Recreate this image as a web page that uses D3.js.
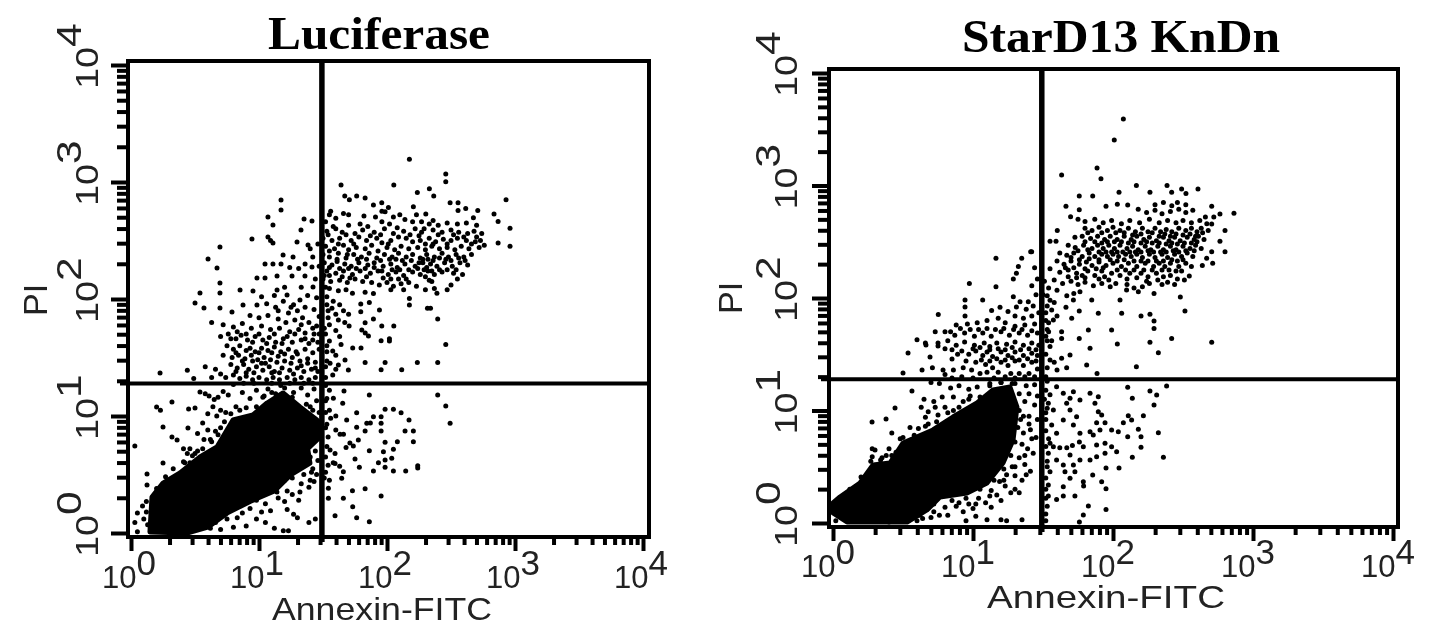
<!DOCTYPE html>
<html>
<head>
<meta charset="utf-8">
<script src="https://cdn.jsdelivr.net/npm/d3@7"></script>
<style>
  html, body { margin: 0; padding: 0; background: #fff; }
  svg { display: block; filter: blur(0.5px); }
</style>
</head>
<body>
<svg width="1441" height="642"></svg>
<script>
const decades = [0, 1, 2, 3, 4];
const minorSteps = [2, 3, 4, 5, 6, 7, 8, 9];
const xLabel = "Annexin-FITC";
const yLabel = "PI";
const gateAnnexin = 31;
const gatePI = 19;

// all population values are log10(intensity)
// solid black part of the population, where the dots merge
const lucBlob = [[.148,.009],[.164,.308],[.25,.427],[.383,.513],[.539,.65],[.672,.735],[.797,.966],[.953,1.009],[1.063,1.111],[1.188,1.197],[1.32,1.077],[1.453,.966],[1.477,.821],[1.38,.72],[1.398,.598],[1.25,.5],[1.12,.36],[.93,.27],[.75,.17],[.6,.05],[.438,0]];
const kdBlob = [[0,.178],[.05,.231],[.193,.356],[.286,.516],[.407,.533],[.5,.711],[.714,.827],[.857,.942],[1.029,1.067],[1.143,1.182],[1.264,1.209],[1.314,1.031],[1.286,.738],[1.214,.533],[1.1,.356],[.957,.267],[.764,.231],[.671,.116],[.529,.009],[.1,.009],[0,.089]];

// dots along the rim of the solid part
const lucRim = [[.2,.38],[.27,.48],[.33,.55],[.42,.6],[.48,.66],[.52,.7],[.56,.72],[.62,.8],[.68,.84],[.73,.95],[.78,1.02],[.85,1.05],[.9,1.07],[.98,1.08],[1.04,1.17],[1.1,1.2],[1.26,1.16],[1.4,1.08],[1.47,.95],[.45,.06],[.52,.13],[.6,.16],[.66,.2],[.72,.27],[.8,.29],[.86,.32],[.95,.35],[1.02,.34],[1.06,.42],[1.13,.47],[1.18,.52],[1.25,.58],[1.33,.58],[1.4,.65],[1.42,.55],[1.3,.72],[1.38,.75],[.3,.02],[.36,.04],[.1,.12],[.12,.18]];
const kdRim = [[.12,.3],[.2,.41],[.27,.55],[.35,.58],[.42,.6],[.48,.75],[.58,.78],[.66,.86],[.74,.9],[.82,.98],[.9,1.03],[.97,1.1],[1.05,1.12],[1.12,1.22],[1.2,1.25],[1.28,1.24],[1.33,1.15],[1.33,1],[1.32,.85],[1.3,.72],[1.27,.6],[1.22,.48],[1.15,.38],[1.05,.3],[.95,.22],[.85,.2],[.72,.17],[.62,.07],[.55,.05],[.45,.03],[.6,.02]];

const lucDots = [
  // top right quadrant, outliers
  [2.175,3.194],[2.459,3.068],[2.459,3.002],[1.641,2.974],[2.053,2.974],[2.237,2.911],[2.331,2.943],[2.365,2.88],[2.93,2.849],[1.67,2.88],[1.706,2.849],[1.763,2.88],[1.829,2.863],[1.894,2.803],[1.959,2.823],[2.011,2.783],[1.985,2.746],[2.206,2.789],[2.303,2.726],[2.493,2.823],[2.555,2.823],[2.555,2.757],[2.615,2.774],[2.709,2.757],[2.836,2.726],[2.868,2.663],[2.675,2.695],[2.961,2.604],[2.868,2.478],[2.961,2.45],
  // top right quadrant, dense band
  [1.55,2.72],[1.6,2.69],[1.66,2.73],[1.82,2.71],[1.91,2.7],[2.1,2.72],[2.14,2.68],[2.2,2.66],[1.52,2.66],[1.58,2.62],[1.7,2.63],[1.79,2.64],[1.85,2.62],[1.96,2.66],[2.02,2.64],[2.08,2.61],[2.27,2.66],[2.33,2.64],[2.4,2.63],[2.47,2.65],[2.55,2.64],[2.62,2.65],[2.7,2.63],
  [1.53,2.58],[1.6,2.6],[1.65,2.57],[1.75,2.56],[1.81,2.59],[1.9,2.57],[1.98,2.6],[2.05,2.56],[2.13,2.58],[2.22,2.6],[2.27,2.57],[2.36,2.59],[2.43,2.57],[2.5,2.59],[2.56,2.57],[2.63,2.56],[2.68,2.58],[2.74,2.56],
  [1.5,2.52],[1.57,2.5],[1.63,2.52],[1.72,2.5],[1.78,2.53],[1.84,2.5],[1.92,2.52],[1.96,2.48],[2.03,2.5],[2.15,2.52],[2.2,2.49],[2.26,2.5],[2.33,2.52],[2.38,2.49],[2.44,2.51],[2.5,2.5],[2.55,2.52],[2.62,2.5],[2.69,2.49],[2.73,2.5],
  [1.52,2.45],[1.59,2.43],[1.66,2.46],[1.7,2.42],[1.76,2.44],[1.83,2.43],[1.88,2.46],[1.93,2.41],[2,2.44],[2.06,2.42],[2.11,2.45],[2.17,2.43],[2.24,2.44],[2.3,2.42],[2.35,2.45],[2.41,2.43],[2.47,2.44],[2.53,2.42],[2.58,2.45],[2.64,2.43],[2.72,2.44],[2.76,2.46],
  [1.5,2.38],[1.55,2.36],[1.62,2.39],[1.68,2.35],[1.74,2.38],[1.8,2.36],[1.86,2.39],[1.92,2.35],[1.98,2.38],[2.04,2.36],[2.09,2.39],[2.15,2.36],[2.2,2.38],[2.26,2.35],[2.31,2.38],[2.37,2.36],[2.43,2.39],[2.48,2.36],[2.54,2.38],[2.6,2.36],[2.66,2.38],
  [1.51,2.31],[1.57,2.29],[1.61,2.32],[1.67,2.3],[1.72,2.28],[1.78,2.31],[1.85,2.29],[1.9,2.31],[1.97,2.28],[2.03,2.3],[2.08,2.27],[2.14,2.3],[2.22,2.28],[2.28,2.31],[2.31,2.27],[2.34,2.3],[2.39,2.28],[2.45,2.31],[2.51,2.28],[2.57,2.31],[2.63,2.29],
  [1.53,2.24],[1.6,2.22],[1.66,2.24],[1.73,2.21],[1.79,2.24],[1.87,2.22],[1.93,2.24],[2.01,2.21],[2.07,2.23],[2.13,2.2],[2.2,2.23],[2.26,2.21],[2.32,2.24],[2.37,2.21],[2.43,2.23],[2.52,2.22],[2.59,2.21],
  [1.5,2.17],[1.56,2.15],[1.63,2.16],[1.69,2.14],[1.75,2.17],[1.81,2.15],[1.88,2.14],[1.94,2.12],[2,2.14],[2.05,2.11],[2.11,2.13],[2.17,2.14],[2.23,2.11],[2.33,2.16],[2.37,2.09],[2.5,2.12],[2.55,2.17],[2.47,2.08],
  [1.54,2.55],[1.62,2.47],[1.68,2.55],[1.74,2.47],[1.87,2.54],[1.95,2.55],[2.01,2.47],[2.09,2.53],[2.18,2.55],[2.25,2.54],[2.3,2.47],[2.36,2.47],[2.4,2.55],[2.47,2.47],[2.52,2.55],[2.6,2.53],[2.66,2.47],[2.7,2.53],
  [1.55,2.41],[1.61,2.34],[1.69,2.38],[1.77,2.34],[1.84,2.34],[1.95,2.33],[2.02,2.34],[2.07,2.34],[2.12,2.33],[2.19,2.33],[2.25,2.31],[2.28,2.34],[2.32,2.34],[2.36,2.33],[2.41,2.35],[2.46,2.34],[2.5,2.33],[2.56,2.35],[2.61,2.33],
  [1.55,2.27],[1.63,2.26],[1.7,2.26],[1.76,2.26],[1.83,2.26],[1.9,2.27],[1.96,2.24],[2.04,2.25],[2.1,2.25],[2.17,2.25],[2.24,2.26],[2.29,2.25],[2.35,2.24],[2.41,2.25],[2.47,2.25],[2.54,2.25],
  [1.55,2.2],[1.65,2.19],[1.71,2.18],[1.84,2.19],[1.97,2.18],[2.03,2.17],[2.09,2.17],[2.15,2.17],[2.3,2.19],[2.35,2.15],[1.56,2.75],[1.7,2.72],[1.96,2.75],[2.05,2.7],[2.23,2.72],[2.29,2.6],[2.36,2.67],
  // top right quadrant, under the band
  [1.55,2.09],[1.62,2.07],[1.68,2.08],[1.73,2.05],[2.03,2.08],[2.13,2.08],[2.3,2.08],[2.39,2.05],[1.829,2.057],[1.894,2.048],[1.862,1.971],[1.795,1.957],[1.795,1.891],[1.941,1.906],[2.175,2.005],[2.175,1.948],[2.316,1.92],[2.34,1.92],[2.396,1.829],[1.894,1.829],[1.829,1.797],[1.704,1.769],[1.959,1.769],[2.053,1.769],[1.803,1.735],[1.83,1.71],[1.855,1.683],[1.954,1.643],[2.019,1.66],[2.019,1.64],[2.459,1.612],[1.641,1.612],[1.576,1.555],[1.732,1.581],[1.797,1.581],[1.829,1.458],[1.985,1.458],[2.237,1.458],[2.396,1.458],[1.954,1.395],[2.115,1.395],[1.672,1.478],[1.62,1.435],[1.555,1.45],[1.698,1.393],[1.576,1.35],
  [1.53,2.02],[1.58,1.98],[1.63,1.95],[1.57,1.92],[1.66,1.9],[1.6,1.87],[1.7,1.87],[1.54,1.84],[1.62,1.82],[1.67,1.8],[1.55,1.78],[1.6,1.73],[1.52,1.7],[1.63,1.68],[1.55,1.64],[1.53,1.55],[1.6,1.52],[1.53,1.47],[1.6,1.4],[1.52,1.33],
  [1.51,2.2],[1.52,2.1],[1.53,1.95],[1.54,1.9],[1.51,1.75],[1.53,1.6],[1.52,1.42],[1.52,1.26],[1.55,1.22],[1.53,1.15],[1.52,1.03],[1.52,.9],[1.53,.74],[1.52,.65],[1.54,.58],[1.51,.47],
  // upper left quadrant, fan up to the gate line
  [1.172,2.846],[1.172,2.761],[1.07,2.7],[1.109,2.632],[1.352,2.684],[1.414,2.667],[1.328,2.59],[.945,2.513],[1.07,2.53],[1.09,2.5],[1.109,2.479],[.695,2.444],[.602,2.342],[1.188,2.376],[1.266,2.359],[1.297,2.487],[1.383,2.462],[1.4,2.43],[1.047,2.299],[1.109,2.299],[1.172,2.299],[.672,2.265],[.695,2.137],[.984,2.179],[1.047,2.179],[1.141,2.197],[1.258,2.197],[1.414,2.274],[1.359,2.197],[.852,2.077],[.953,2.068],[.539,2.051],[.695,2.051],[1.141,2.077],[1.219,2.034],[.5,1.966],[.57,1.923],[.695,1.923],[.789,1.889],[.875,1.949],[.984,1.949],[1.32,1.991],[1.422,2.103],[1.27,1.95],
  [1.12,2.03],[1.19,1.98],[1.2,2.1],[1.33,2.1],[1.38,2.03],[1.45,2.01],[1.44,2.17],[1.42,2.36],[1.47,2.28],[1.46,2.47],[1.36,2.3],[1.31,2.26],[1.24,2.27],[1.02,2.02],[1.06,1.96],[1.13,1.93],[1.23,1.88],[1.3,1.9],[1.36,1.93],[1.43,1.91],[1.47,1.85],[.93,1.86],[1,1.84],[1.07,1.86],[1.15,1.83],[1.21,1.8],[1.28,1.82],[1.34,1.84],[1.39,1.8],[1.45,1.77],
  [.63,1.8],[.72,1.78],[.8,1.76],[.87,1.79],[.94,1.75],[1.02,1.77],[1.09,1.74],[1.16,1.75],[1.24,1.72],[1.31,1.74],[1.36,1.71],[1.43,1.7],[.7,1.68],[.76,1.7],[.82,1.66],[.86,1.69],[.91,1.65],[.97,1.68],[1.03,1.65],[1.08,1.67],[1.13,1.63],[1.19,1.66],[1.26,1.63],[1.33,1.65],[1.39,1.62],[1.46,1.63],
  [.75,1.6],[.8,1.57],[.85,1.6],[.9,1.56],[.93,1.58],[.97,1.55],[1.02,1.58],[1.07,1.56],[1.12,1.59],[1.17,1.55],[1.23,1.57],[1.29,1.55],[1.36,1.57],[1.42,1.54],[1.47,1.57],[.72,1.52],[.79,1.5],[.84,1.52],[.89,1.49],[.94,1.52],[.99,1.48],[1.04,1.5],[1.09,1.48],[1.15,1.51],[1.2,1.47],[1.26,1.5],[1.32,1.47],[1.38,1.49],[1.44,1.46],
  [.78,1.44],[.83,1.41],[.88,1.44],[.92,1.4],[.98,1.42],[1.03,1.39],[1.08,1.42],[1.12,1.38],[1.18,1.41],[1.24,1.39],[1.3,1.41],[1.35,1.38],[1.41,1.4],[1.46,1.38],[.66,1.4],[.58,1.42],[.7,1.36],[.74,1.33],[.8,1.35],[.85,1.32],[.9,1.34],[.95,1.31],[1,1.33],[1.06,1.31],[1.11,1.33],[1.16,1.31],[1.22,1.33],[1.28,1.31],[1.33,1.33],[1.39,1.31],[1.44,1.33],[.227,1.368],[.44,1.39],[.63,1.33],[.49,1.32],
  [.78,1.66],[.83,1.72],[.9,1.7],[.95,1.63],[1,1.7],[1.06,1.62],[1.12,1.7],[1.18,1.62],[1.22,1.68],[1.28,1.7],[1.36,1.66],[1.42,1.65],[.82,1.54],[.87,1.47],[.95,1.47],[1,1.54],[1.05,1.45],[1.1,1.54],[1.14,1.46],[1.2,1.53],[1.25,1.45],[1.3,1.53],[1.38,1.45],[.82,1.38],[.9,1.37],[.96,1.37],[1.02,1.45],[1.1,1.37],[1.16,1.37],[1.27,1.36],[1.33,1.43],[1.44,1.41],
  [1.1,1.28],[1.17,1.26],[1.24,1.28],[1.35,1.28],[1.42,1.28],[.96,1.28],[.88,1.28],[.8,1.27],[1.15,1.9],[1.25,1.93],[1.33,1.78],[1.42,1.75],[1.47,1.7],
  // below the horizontal gate, left of the vertical one
  [.2,1.077],[.23,1.05],[.32,1.12],[.5,1.068],[.45,1.06],[.445,.897],[.25,.906],[.32,.821],[.36,.795],[.03,.744],[.25,.598],[.125,.504],[.125,.41],[.41,.72],[.46,.72],[.44,.68],[.41,.61],[.46,.6],[.5,.68],[.539,1.205],[.58,1.19],[.61,1.17],[.65,1.14],[.68,1.16],[.72,1.21],[.76,1.18],[.64,1.08],[.6,1.02],[.67,1],[.7,1.05],[.56,.94],[.6,.88],[.66,.87],[.52,.85],[.57,.8],[.63,.78],[.7,.9],[.74,1.03],[.82,1.08],[.87,1.2],[.93,1.15],[.98,1.22],[1.03,1.16],[1.07,1.23],[1.13,1.19],[1.2,1.24],[1.27,1.2],[1.33,1.24],[1.38,1.18],[1.43,1.23],[1.45,1.13],[1.37,1.1],[1.42,1.05],[1.47,1.03],
  [1.24,.66],[1.3,.66],[1.37,.68],[1.44,.7],[1.46,.62],[1.41,.52],[1.35,.5],[1.3,.55],[1.26,.47],[1.2,.45],[1.43,.44],[1.33,.42],[1.39,.39],[1.15,.3],[1.2,.27],[1.26,.33],[1.31,.28],[1.22,.2],[1.27,.16],[1.3,.13],[1.05,.25],[1.09,.19],[1.02,.18],[.93,.21],[.87,.17],[.83,.13],[.8,.22],[.75,.12],[.7,.15],[.66,.09],[.62,.12],[.98,.12],[1.05,.09],[1.12,.04],[1.19,.02],[1.23,.02],[1.39,.09],[1.44,.12],[.9,.06],[.8,.05],[.7,.03],[.56,.05],[.05,.01],[.03,.09],[.05,.17],[.13,.07],[.09,.23],[.12,.27],[.28,.06],
  [.9,.26],[.98,.28],[1.05,.35],[1.14,.35],[1.22,.36],[1.32,.35],[1.4,.45],[1.45,.5],[.7,.2],[.62,.04],
  // right of the vertical gate, low PI
  [2.396,1.179],[2.459,1.085],[2.493,.937],[1.862,1.179],[1.664,1.214],[1.581,1.151],[1.654,1.108],[1.763,1.028],[1.985,1.057],[2.05,1.057],[2.11,1.028],[1.894,.994],[1.954,.994],[2.172,.966],[1.685,.966],[1.842,.937],[1.87,.94],[1.954,.937],[1.763,.903],[1.829,.872],[1.954,.872],[2.141,.872],[2.206,.872],[1.633,.843],[1.66,.843],[1.776,.795],[1.737,.743],[1.985,.775],[2.081,.78],[2.206,.78],[2.05,.715],[1.972,.695],[1.862,.704],[1.75,.632],[2.037,.638],[1.985,.624],[1.933,.601],[2.24,.575],[2.24,.555],[1.784,.561],[1.985,.561],[1.894,.53],[2.05,.53],[2.146,.53],[1.659,.524],[1.646,.467],[1.73,.362],[1.829,.379],[1.954,.316],[1.659,.296],[1.732,.225],[1.594,.148],[1.763,.131],[1.862,.097],[1.542,.382],[1.542,.296],[1.594,.595],[1.555,.709],[1.594,.68],[1.53,.93],[1.56,.98],[1.6,1],[1.55,1.05],[1.52,1.13],[1.6,.88],[1.54,.82],[1.58,.6],[1.52,.52],[1.55,.45],[1.68,.73],[1.71,.77],[1.63,.57]
];

const kdDots = [
  // top right quadrant, outliers
  [2.074,3.591],[2.009,3.404],[1.886,3.156],[1.914,3.061],[1.633,3.093],[2.167,3],[2.386,3],[2.419,2.939],[2.264,2.939],[2.043,2.939],[1.759,2.907],[1.855,2.907],[2.607,2.969],[2.49,2.969],[2.521,2.93],[1.664,2.815],[1.759,2.785],[1.95,2.815],[2.031,2.833],[2.105,2.827],[1.697,2.723],[2.705,2.815],[2.864,2.753],[2.764,2.747],[2.705,2.658],[2.8,2.599],[2.764,2.504],[2.705,2.412],[2.8,2.412],[2.669,2.353],[2.638,2.29],[2.712,2.308],[1.602,2.599],[1.728,2.539],[1.55,2.504],[1.593,2.504],[1.419,2.412],[2.545,2.196],[2.481,2.009],[2.293,2.041],[2.514,1.884],[2.2,1.84],[2.264,1.855],[2.293,1.796],[2.293,1.73],[2.419,1.639],[2.264,1.606],[2.705,1.606],[2.324,1.514],[2.167,1.39],[1.886,1.33],[2.031,1.591],[1.99,1.716],[2.062,1.864],[1.895,1.864],[1.759,1.884],[1.664,1.917],[1.705,1.819],[1.824,1.716],[1.759,1.639],[1.633,1.701],[1.633,1.639],[1.562,1.621],[1.836,1.553],[1.693,1.493],[1.633,1.464],[1.669,1.381],[1.812,1.404],[1.562,1.893],[1.574,1.804],[1.717,1.982],[1.848,1.982],[2.05,1.982],[1.764,2.056],[2.181,2.056],[2.097,2.071],
  // top right quadrant, dense band
  [2.3,2.83],[2.36,2.85],[2.42,2.82],[2.46,2.85],[2.52,2.83],[2.18,2.79],[2.24,2.76],[2.3,2.78],[2.35,2.75],[2.41,2.77],[2.47,2.79],[2.52,2.76],[2.57,2.78],[2.66,2.72],[2.72,2.72],[1.75,2.7],[1.8,2.68],[1.87,2.7],[1.93,2.67],[1.99,2.69],[2.06,2.66],[2.12,2.69],[2.19,2.67],[2.26,2.7],[2.33,2.67],[2.39,2.69],[2.45,2.67],[2.5,2.69],[2.56,2.67],[2.62,2.69],[2.67,2.66],
  [1.8,2.62],[1.85,2.6],[1.9,2.63],[1.96,2.6],[2,2.63],[2.05,2.6],[2.11,2.62],[2.16,2.59],[2.21,2.62],[2.25,2.59],[2.3,2.62],[2.34,2.59],[2.38,2.61],[2.42,2.59],[2.47,2.62],[2.52,2.6],[2.56,2.62],[2.6,2.59],[2.63,2.62],[2.68,2.6],
  [1.78,2.55],[1.84,2.53],[1.89,2.55],[1.94,2.52],[1.98,2.55],[2.03,2.52],[2.08,2.55],[2.13,2.52],[2.17,2.55],[2.22,2.52],[2.26,2.54],[2.31,2.51],[2.36,2.54],[2.4,2.51],[2.44,2.54],[2.48,2.51],[2.53,2.54],[2.58,2.52],[2.61,2.55],[2.65,2.52],
  [1.68,2.47],[1.73,2.45],[1.79,2.47],[1.85,2.44],[1.89,2.47],[1.93,2.44],[1.97,2.47],[2.01,2.44],[2.05,2.47],[2.1,2.44],[2.14,2.46],[2.18,2.43],[2.23,2.46],[2.27,2.43],[2.32,2.46],[2.36,2.43],[2.41,2.46],[2.45,2.43],[2.5,2.46],[2.55,2.44],[2.59,2.47],[2.63,2.44],
  [1.62,2.4],[1.67,2.38],[1.72,2.4],[1.78,2.37],[1.83,2.4],[1.87,2.37],[1.92,2.39],[1.96,2.37],[2,2.39],[2.04,2.37],[2.09,2.39],[2.13,2.37],[2.17,2.39],[2.21,2.36],[2.26,2.39],[2.3,2.36],[2.35,2.39],[2.39,2.36],[2.44,2.39],[2.49,2.37],[2.53,2.4],[2.57,2.37],
  [1.6,2.33],[1.65,2.3],[1.7,2.33],[1.76,2.3],[1.81,2.32],[1.85,2.29],[1.9,2.32],[1.95,2.29],[2,2.31],[2.06,2.28],[2.11,2.31],[2.17,2.28],[2.23,2.31],[2.29,2.28],[2.33,2.31],[2.37,2.28],[2.41,2.31],[2.47,2.28],[2.52,2.31],[2.56,2.28],[2.49,2.24],
  [1.55,2.26],[1.62,2.23],[1.68,2.25],[1.74,2.22],[1.78,2.2],[1.82,2.24],[1.87,2.2],[1.92,2.24],[1.94,2.19],[1.99,2.22],[2.05,2.2],[2.12,2.22],[2.17,2.18],[2.2,2.22],[2.25,2.19],[2.31,2.22],[2.36,2.19],[2.41,2.2],[2.46,2.17],[2.51,2.16],
  [1.58,2.16],[1.64,2.13],[1.7,2.15],[1.75,2.12],[1.8,2.14],[1.86,2.11],[1.92,2.13],[1.98,2.1],[2.02,2.13],[2.1,2.12],[2.15,2.09],[2.21,2.1],[2.26,2.13],[2.35,2.12],[1.54,2.09],[1.6,2.07],[1.67,2.02],[1.72,2.04],[1.5,2.03],
  [1.82,2.58],[1.92,2.58],[2.02,2.58],[2.08,2.58],[2.14,2.56],[2.2,2.57],[2.28,2.58],[2.33,2.55],[2.37,2.57],[2.41,2.55],[2.45,2.57],[2.5,2.56],[2.55,2.57],[2.59,2.55],[2.64,2.58],
  [1.8,2.5],[1.87,2.5],[1.92,2.49],[1.96,2.5],[2.01,2.5],[2.06,2.5],[2.11,2.49],[2.15,2.5],[2.2,2.49],[2.24,2.5],[2.28,2.49],[2.33,2.49],[2.38,2.48],[2.42,2.49],[2.46,2.48],[2.51,2.49],[2.56,2.49],[2.6,2.5],
  [1.75,2.42],[1.82,2.43],[1.9,2.41],[1.95,2.41],[1.99,2.41],[2.03,2.41],[2.07,2.41],[2.12,2.41],[2.16,2.41],[2.2,2.41],[2.25,2.42],[2.29,2.41],[2.34,2.41],[2.38,2.41],[2.43,2.42],[2.47,2.41],[2.52,2.42],[2.58,2.42],
  [1.7,2.36],[1.76,2.34],[1.83,2.35],[1.9,2.34],[1.98,2.34],[2.03,2.33],[2.08,2.34],[2.15,2.33],[2.2,2.33],[2.25,2.33],[2.31,2.33],[2.36,2.33],[2.42,2.34],[2.46,2.33],[2.5,2.34],[1.66,2.27],[1.72,2.27],[1.8,2.26],[1.88,2.26],[1.93,2.27],[2.03,2.25],[2.09,2.25],[2.15,2.25],[2.22,2.25],[2.28,2.25],[2.35,2.25],[2.4,2.25],[2.45,2.24],[1.68,2.19],[1.74,2.18],[1.8,2.18],[1.9,2.17],[1.97,2.16],[2.1,2.17],[2.24,2.15],[2.32,2.16],[2.39,2.14],[2.44,2.12],
  [1.55,1.98],[1.58,1.96],[1.53,1.93],[1.52,1.87],[1.6,1.84],[1.54,1.78],[1.53,1.72],[1.52,1.66],[1.55,1.57],[1.52,1.5],[1.55,1.45],[1.53,1.38],[1.6,1.36],[1.58,1.43],
  [1.51,2.15],[1.53,2.02],[1.52,1.8],[1.54,1.7],[1.53,1.62],[1.52,1.3],[1.53,1.26],[1.51,1.1],[1.53,1.02],[1.52,.92],[1.54,.75],[1.52,.68],[1.53,.55],[1.52,.3],[1.52,.22],
  // upper left quadrant, fan up to the gate line
  [1.412,2.412],[1.348,2.353],[1.164,2.353],[1.324,2.279],[1.31,2.22],[1.288,2.168],[1.164,2.1],[.974,2.129],[.943,1.982],[.943,1.92],[.943,1.84],[1.069,1.982],[1.133,1.888],[1.193,1.917],[1.288,2.012],[1.336,1.967],[1.395,1.967],[.752,1.853],[1.44,2.27],[1.46,2.17],[1.42,2.11],[1.45,2.03],[1.31,1.92],[1.38,1.9],[1.43,1.93],[1.25,1.88],[1.3,1.84],[1.36,1.82],[1.42,1.84],[1.47,1.87],[1.18,1.82],[1.1,1.8],[1.03,1.78],[.96,1.77],[.88,1.76],[1.23,1.78],[1.3,1.75],[1.37,1.76],[1.44,1.77],
  [.73,1.7],[.8,1.7],[.87,1.67],[.94,1.69],[1.01,1.66],[1.07,1.69],[1.13,1.66],[1.2,1.7],[1.26,1.67],[1.33,1.69],[1.39,1.67],[1.46,1.69],[.6,1.63],[.66,1.6],[.75,1.6],[.82,1.62],[.88,1.58],[.94,1.61],[1.01,1.58],[1.08,1.6],[1.12,1.57],[1.17,1.6],[1.24,1.59],[1.3,1.61],[1.36,1.58],[1.42,1.6],[1.47,1.58],
  [.536,1.511],[.664,1.582],[.75,1.573],[.693,1.476],[.85,1.458],[.89,1.5],[.97,1.5],[1.02,1.53],[1.07,1.49],[1.1,1.52],[1.14,1.48],[1.2,1.52],[1.25,1.49],[1.3,1.52],[1.36,1.49],[1.42,1.51],[1.46,1.49],[.636,1.36],[.71,1.38],[.786,1.36],[.5,1.333],[.86,1.36],[.93,1.38],[.99,1.36],[1.02,1.43],[1.09,1.41],[1.14,1.38],[1.2,1.43],[1.25,1.4],[1.3,1.44],[1.36,1.4],[1.42,1.43],[1.46,1.37],[1.33,1.33],[1.4,1.33],[1.05,1.33],[.8,1.32],[1.18,1.34],[1.27,1.33],
  [.84,1.7],[.91,1.73],[.98,1.72],[1.04,1.72],[1.1,1.73],[1.16,1.72],[1.22,1.73],[1.29,1.72],[1.35,1.72],[1.42,1.71],[.8,1.55],[.85,1.54],[.92,1.53],[1,1.55],[1.05,1.56],[1.12,1.54],[1.18,1.55],[1.23,1.54],[1.28,1.56],[1.34,1.54],[1.4,1.55],[1.45,1.54],[.95,1.44],[1.06,1.45],[1.12,1.44],[1.17,1.46],[1.23,1.45],[1.28,1.47],[1.33,1.45],[1.39,1.46],[1.45,1.44],[1.1,1.34],[1.15,1.29],[1.23,1.3],[1.3,1.29],[1.37,1.3],[1.44,1.3],[1,1.29],[.92,1.3],[.85,1.29],
  // below the horizontal gate, left of the vertical one
  [.564,1.173],[.443,1.022],[.279,.898],[.379,.924],[.65,1.1],[.72,1.08],[.63,1.03],[.68,.99],[.73,1.03],[.66,.94],[.75,.96],[.8,1.03],[.86,1],[.78,1.12],[.86,1.12],[.93,1.08],[.98,1.13],[.84,1.2],[.9,1.22],[.97,1.19],[1.03,1.21],[.7,1.25],[.76,1.24],[1.12,1.24],[1.2,1.25],[1.3,1.24],[1.38,1.22],[1.44,1.23],[1.4,1.15],[1.46,1.13],[1.37,1.08],[1.44,1.05],[.5,.76],[.42,.8],[.55,.85],[.61,.84],[.68,.88],[.3,.65],[.4,.66],[.28,.59],[.34,.56],[.38,.6],[.45,.63],[.28,.66],
  [1.34,.92],[1.4,.95],[1.46,.92],[1.36,.8],[1.41,.83],[1.45,.76],[1.35,.7],[1.39,.66],[1.43,.62],[1.33,.58],[1.37,.52],[1.41,.46],[1.28,.5],[1.24,.43],[1.3,.42],[1.35,.38],[1.19,.37],[1.23,.33],[1.27,.27],[1.33,.27],[1.13,.29],[1.17,.25],[1.04,.22],[1.09,.18],[1.13,.14],[.97,.17],[1,.13],[.93,.1],[.88,.15],[.82,.07],[.76,.07],[.7,.05],[.64,.04],[.95,.02],[1.02,.06],[1.1,.03],[1.2,.03],[1.35,.03],[1.24,.02],[.15,.12],[.08,.14],[.02,.02],[.2,.02],[.3,.03],[.4,.01],[.24,.06],
  [1.36,.95],[1.4,.88],[1.42,.75],[1.37,.6],[1.3,.5],[1.22,.38],[1.12,.24],[1.02,.17],[1.2,.2],[1.3,.3],[1.38,.43],[.8,.14],[.72,.1],[.9,.18],
  // right of the vertical gate, low PI
  [2.105,1.206],[2.138,1.108],[2.264,1.173],[2.312,1.138],[2.293,1.049],[2.383,1.218],[2.217,.954],[2.109,.954],[2.074,.892],[2.133,.916],[2.181,.833],[2.2,.767],[2.2,.673],[2.105,.767],[2.324,.803],[2.36,.584],[2.138,.584],[2.043,.489],[1.95,.489],[1.855,.427],[1.919,.367],[1.95,.305],[1.788,.367],[1.79,.33],[1.824,.151],[1.95,.121],[1.788,.071],[1.76,.01],[1.728,.24],[1.645,.24],[1.597,.21],[1.538,.24],[1.645,.323],[1.693,.397],[1.538,.338],[1.55,.456],[1.645,.516],[1.717,.516],[1.657,.456],[1.728,.456],[1.836,.56],[1.883,.59],[1.943,.62],[1.693,.604],[1.597,.56],[1.764,.56],[1.574,.678],[1.62,.67],[1.67,.67],[1.71,.69],[1.76,.72],[1.883,.693],[1.943,.708],[1.99,.678],[2.026,.634],[1.788,.678],[1.764,.797],[1.836,.812],[1.907,.827],[1.99,.827],[2.038,.812],[1.859,.782],[1.883,.892],[1.943,.892],[1.693,1.004],[1.74,.945],[1.645,.916],[1.717,.871],[1.836,1.153],[1.895,1.123],[1.871,1.064],[1.895,.99],[1.919,.96],[1.717,1.167],[1.764,1.093],[1.693,1.108],[1.645,1.153],[1.597,1.212],[1.669,1.064],[1.538,1.064],[1.574,1.004],[1.562,.871],[1.597,.797],[1.55,.708],[1.538,.619],[1.52,1.18],[1.55,1.14],[1.52,.98],[1.52,.82],[1.53,.5],[1.52,.4],[1.53,.15],[1.52,.08],[1.52,.02]
];

const svg = d3.select("svg");

function drawPanel(cfg) {
  const x = d3.scaleLog().domain([1, 1e4]).range(cfg.xRange);
  const y = d3.scaleLog().domain([1, 1e4]).range(cfg.yRange);
  const g = svg.append("g");

  const minorTicks = decades.slice(0, 4).flatMap(d => minorSteps.map(m => m * 10 ** d));
  const majorTicks = decades.map(d => 10 ** d);

  // population first, so the frame and the gates stay on top
  const px = d => x(10 ** d[0]);
  const py = d => y(10 ** d[1]);
  g.append("path")
    .attr("d", d3.line().x(px).y(py).curve(d3.curveLinearClosed)(cfg.blob))
    .attr("fill", "#000")
    .attr("stroke", "#000")
    .attr("stroke-width", 5)
    .attr("stroke-linejoin", "round");
  g.selectAll(".dot")
    .data(cfg.dots)
    .join("circle")
    .attr("class", "dot")
    .attr("cx", px)
    .attr("cy", py)
    .attr("r", 2.5)
    .attr("fill", "#000");

  // ticks
  const bottom = cfg.frame.bottom;
  const left = cfg.frame.left;
  [[minorTicks, 8], [majorTicks, 14]].forEach(([vals, size]) => {
    g.append("g")
      .attr("transform", `translate(0,${bottom})`)
      .call(d3.axisBottom(x).tickValues(vals).tickSize(size).tickFormat(""))
      .call(a => a.select(".domain").remove())
      .selectAll("line").attr("stroke", "#000").attr("stroke-width", 4);
    g.append("g")
      .attr("transform", `translate(${left},0)`)
      .call(d3.axisLeft(y).tickValues(vals).tickSize(size + 3).tickFormat(""))
      .call(a => a.select(".domain").remove())
      .selectAll("line").attr("stroke", "#000").attr("stroke-width", 4);
  });

  // frame and gates
  g.append("rect")
    .attr("x", left)
    .attr("y", cfg.frame.top)
    .attr("width", cfg.frame.right - left)
    .attr("height", bottom - cfg.frame.top)
    .attr("fill", "none")
    .attr("stroke", "#000")
    .attr("stroke-width", 4);
  g.append("line")
    .attr("x1", x(gateAnnexin)).attr("x2", x(gateAnnexin))
    .attr("y1", cfg.frame.top).attr("y2", bottom + 5)
    .attr("stroke", "#000").attr("stroke-width", 5.5);
  g.append("line")
    .attr("x1", left - 8).attr("x2", cfg.frame.right)
    .attr("y1", y(gatePI)).attr("y2", y(gatePI))
    .attr("stroke", "#000").attr("stroke-width", 4);

  // tick labels
  decades.forEach(d => {
    const t = g.append("text")
      .attr("x", x(10 ** d) + cfg.xLabelShift)
      .attr("y", cfg.xLabelY)
      .attr("font-family", "Liberation Sans")
      .attr("font-size", 31)
      .attr("fill", "#222");
    t.append("tspan").text("10");
    t.append("tspan").attr("dy", -13).attr("font-size", 35).text(d);

    const r = g.append("text")
      .attr("transform", `translate(${cfg.yLabelX},${y(10 ** d) + 24}) rotate(-90) scale(1.18,1)`)
      .attr("font-family", "Liberation Sans")
      .attr("font-size", 32)
      .attr("fill", "#222");
    r.append("tspan").text("10");
    r.append("tspan").attr("dy", -17).attr("font-size", 36).text(d);
  });

  // titles
  g.append("text")
    .attr("x", cfg.titleX)
    .attr("y", cfg.titleY)
    .attr("textLength", cfg.titleWidth)
    .attr("lengthAdjust", "spacingAndGlyphs")
    .attr("font-family", "Liberation Serif")
    .attr("font-weight", "bold")
    .attr("font-size", 46)
    .attr("fill", "#000")
    .text(cfg.title);
  g.append("text")
    .attr("x", cfg.xTitleX)
    .attr("y", cfg.xTitleY)
    .attr("textLength", cfg.xTitleWidth)
    .attr("lengthAdjust", "spacingAndGlyphs")
    .attr("font-family", "Liberation Sans")
    .attr("font-size", 32)
    .attr("fill", "#222")
    .text(xLabel);
  g.append("text")
    .attr("transform", `translate(${cfg.piX},${cfg.piY}) rotate(-90)`)
    .attr("font-family", "Liberation Sans")
    .attr("font-size", 34)
    .attr("fill", "#222")
    .text(yLabel);
}

drawPanel({
  title: "Luciferase", titleX: 268, titleY: 49, titleWidth: 222,
  xRange: [131, 643], yRange: [533, 65],
  frame: { left: 128, right: 649, top: 61, bottom: 537 },
  blob: lucBlob, dots: lucDots.concat(lucRim),
  xLabelShift: -29, xLabelY: 588, yLabelX: 98,
  xTitleX: 272, xTitleY: 620, xTitleWidth: 220,
  piX: 47, piY: 316
});

drawPanel({
  title: "StarD13 KnDn", titleX: 962, titleY: 52, titleWidth: 318,
  xRange: [833, 1393], yRange: [523, 73],
  frame: { left: 829, right: 1398, top: 69, bottom: 527 },
  blob: kdBlob, dots: kdDots.concat(kdRim),
  xLabelShift: -32, xLabelY: 577, yLabelX: 797,
  xTitleX: 987, xTitleY: 608, xTitleWidth: 238,
  piX: 742, piY: 314
});
</script>
</body>
</html>
